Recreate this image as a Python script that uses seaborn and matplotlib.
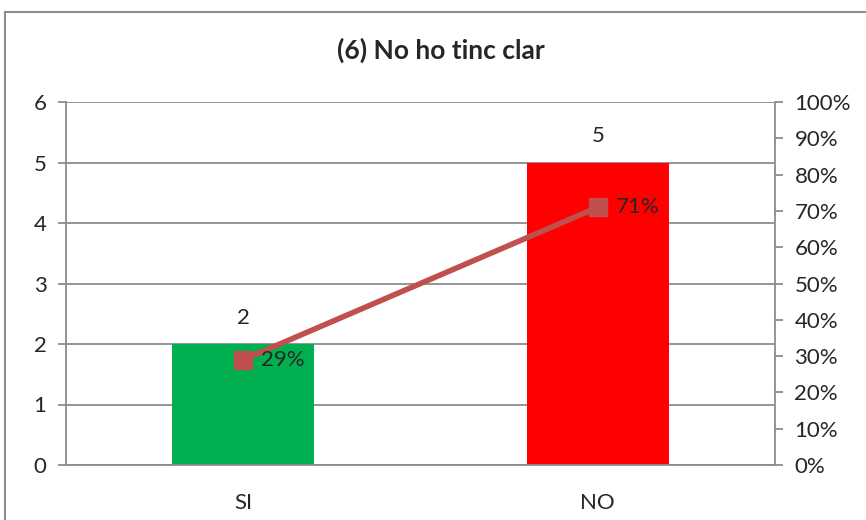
import numpy as np
import matplotlib
matplotlib.use('Agg')
import matplotlib.pyplot as plt
import seaborn as sns
from matplotlib.patches import Rectangle
from matplotlib.ticker import PercentFormatter

categories = ['SI', 'NO']
counts = [2, 5]
shares = [0.29, 0.71]
share_labels = ['29%', '71%']
bar_colors = ['#00B050', '#FF0000']
title = '(6) No ho tinc clar'

sns.set_style('white')
plt.rcParams['font.family'] = ['Lato', 'DejaVu Sans']

fig = plt.figure(figsize=(8.66, 5.2), dpi=100)
ax = fig.add_axes([66 / 866, 55 / 520, 709 / 866, 363 / 520])

sns.barplot(x=categories, y=counts, hue=categories, palette=bar_colors,
            width=0.4, saturation=1, linewidth=0, edgecolor='none',
            legend=False, ax=ax, zorder=2)
ax.set_xlim(-0.5, 1.5)
ax.set_ylim(0, 6)
ax.set_yticks(range(7))
ax.yaxis.grid(True, color='#8C8C8C', lw=1.3, zorder=0)
ax.set_axisbelow(True)
ax.set_xlabel('')
ax.set_ylabel('')

# count labels above the bars
for i, v in enumerate(counts):
    ax.annotate(str(v), (i, v), xytext=(0, 19), textcoords='offset points',
                ha='center', va='center', fontsize=16)

for sp in ax.spines.values():
    sp.set_color('#8C8C8C')
    sp.set_linewidth(1.3)
ax.spines['top'].set_visible(False)

ax.set_xticks([0, 1])
ax.set_xticks([-0.5, 0.5, 1.5], minor=True)
ax.tick_params(axis='x', which='major', length=0, labelsize=16, pad=20)
ax.tick_params(axis='x', which='minor', length=6, color='#8C8C8C', width=1.3)
ax.tick_params(axis='y', length=6, color='#8C8C8C', width=1.3, labelsize=16, pad=8,
               left=True)

ax2 = ax.twinx()
ax2.plot([0, 1], shares, color='#C0504D', lw=4, marker='s', markersize=13,
         markerfacecolor='#C0504D', zorder=3)
for i, (s, t) in enumerate(zip(shares, share_labels)):
    ax2.annotate(t, (i, s), xytext=(13, 0), textcoords='offset points',
                 ha='left', va='center', fontsize=16)
ax2.set_ylim(0, 1)
ax2.set_yticks(np.arange(0, 1.01, 0.1))
ax2.yaxis.set_major_formatter(PercentFormatter(1, decimals=0))
ax2.tick_params(axis='y', length=6, color='#8C8C8C', width=1.3, labelsize=16, pad=8,
                right=True)
for sp in ax2.spines.values():
    sp.set_visible(False)

fig.text(441 / 866, 1 - 50 / 520, title, ha='center', va='center',
         fontsize=19, fontweight='bold')

fig.add_artist(Rectangle((5 / 866, -0.05), 1.0, 1 - 12 / 520 + 0.05,
                         transform=fig.transFigure, fill=False,
                         edgecolor='#8C8C8C', lw=1.5))

fig.savefig('out.png', dpi=100)
